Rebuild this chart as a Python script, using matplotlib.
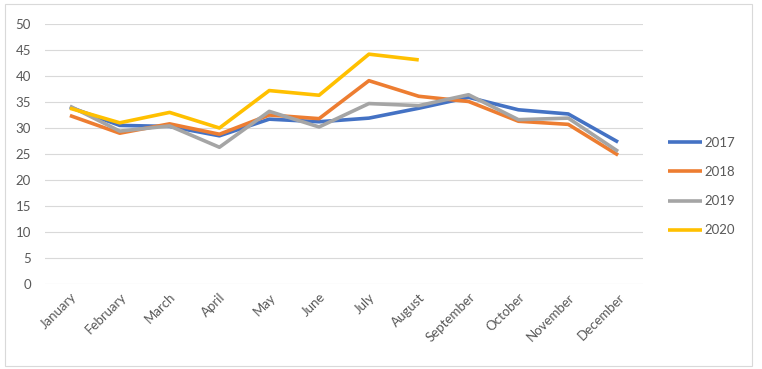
import matplotlib
matplotlib.use("Agg")
import matplotlib.pyplot as plt
from matplotlib.patches import Rectangle

months = ["January", "February", "March", "April", "May", "June", "July",
          "August", "September", "October", "November", "December"]
s2017 = [34.0, 30.5, 30.3, 28.5, 31.7, 31.2, 31.9, 33.8, 35.9, 33.5, 32.7, 27.3]
s2018 = [32.4, 29.0, 30.8, 28.8, 32.5, 31.8, 39.1, 36.1, 35.1, 31.3, 30.7, 24.8]
s2019 = [34.2, 29.4, 30.4, 26.3, 33.2, 30.2, 34.7, 34.3, 36.4, 31.6, 31.9, 25.5]
s2020 = [33.8, 31.0, 33.0, 30.0, 37.2, 36.3, 44.2, 43.1]
series = [("2017", s2017, "#4472C4"), ("2018", s2018, "#ED7D31"),
          ("2019", s2019, "#A5A5A5"), ("2020", s2020, "#FFC000")]

plt.rcParams['font.family'] = ['Lato', 'DejaVu Sans']

fig = plt.figure(figsize=(7.62, 3.69), dpi=100)
ax = fig.add_axes([45/762, 1-284/369, (643-45)/762, (284-24)/369])

for name, vals, col in series:
    ax.plot(range(len(vals)), vals, color=col, lw=2.6, label=name,
            solid_joinstyle='round', solid_capstyle='butt')

ax.set_xlim(-0.5, 11.5)
ax.set_ylim(0, 50)
ax.set_yticks(range(0, 51, 5))
ax.set_xticks(range(12))
ax.set_xticklabels(months, rotation=45, ha='right', rotation_mode='anchor',
                   fontsize=9.5, color='#595959')
ax.tick_params(axis='y', labelsize=9.5, labelcolor='#595959', length=0, pad=10)
ax.tick_params(axis='x', length=0, pad=5)
ax.grid(axis='y', color='#D9D9D9', lw=0.8)
ax.set_axisbelow(True)
for sp in ax.spines.values():
    sp.set_visible(False)

leg = fig.legend(loc='upper left', bbox_to_anchor=(656/762, 1-125/369),
                 frameon=False, fontsize=9.5, labelspacing=1.3,
                 handlelength=2.6, handletextpad=0.15)
for t in leg.get_texts():
    t.set_color('#595959')

fig.patches.append(Rectangle((5/762, 3/369), 747/762, 362/369,
                             transform=fig.transFigure, fill=False,
                             edgecolor='#D9D9D9', lw=0.8))

fig.savefig("out.png", dpi=100)
